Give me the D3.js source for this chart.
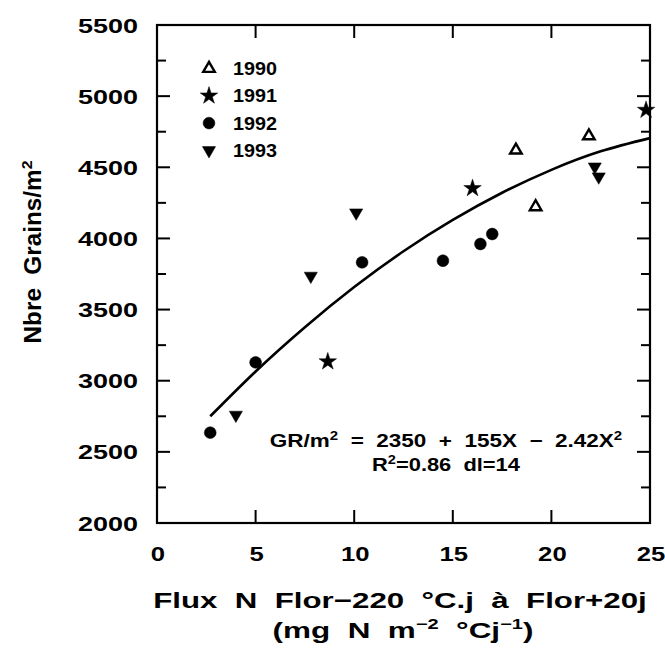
<!DOCTYPE html>
<html>
<head>
<meta charset="utf-8">
<script src="https://cdn.jsdelivr.net/npm/d3@7"></script>
<style>
  html, body { margin: 0; padding: 0; background: #fff; }
  svg { display: block; }
  text { font-family: "Liberation Sans", Arial, Helvetica, sans-serif; fill: #000; font-weight: bold; white-space: pre; }
</style>
</head>
<body>
<svg id="chart" width="665" height="666"></svg>
<script>
// ---------- data ----------
const years = ["1990", "1991", "1992", "1993"];
const x1990 = [18.2, 19.2, 21.9];
const y1990 = [4620, 4222, 4720];
const x1991 = [8.66, 16.0, 24.8];
const y1991 = [3134, 4352, 4902];
const x1992 = [2.7, 5.0, 10.4, 14.5, 16.4, 17.0];
const y1992 = [2635, 3129, 3832, 3843, 3961, 4031];
const x1993 = [4.0, 7.8, 10.1, 22.2, 22.4];
const y1993 = [2759, 3736, 4181, 4504, 4434];
// fitted curve GR/m2 = 2350 + 155X - 2.42X^2
const curveX = [2.7, 5, 7.5, 10, 12.5, 15, 17.5, 20, 22.5, 25];
const curveY = [2750, 3065, 3376, 3658, 3910, 4130, 4321, 4482, 4612, 4705];
const xTicks = [0, 5, 10, 15, 20, 25];
const yTicks = [2000, 2500, 3000, 3500, 4000, 4500, 5000, 5500];
const yMinorTicks = [2250, 2750, 3250, 3750, 4250, 4750, 5250];

// ---------- layout ----------
const svg = d3.select("#chart");
const L = 157, R = 650, T = 25, B = 523;
const x = d3.scaleLinear().domain([0, 25]).range([L, R]);
const y = d3.scaleLinear().domain([2000, 5500]).range([B, T]);

// helper: place text in a group at (gx, gy) and stretch it horizontally to a target width
function wideText(gx, gy, anchor, size, target, build) {
  const g = svg.append("g").attr("transform", `translate(${gx},${gy})`);
  const t = g.append("text").attr("text-anchor", anchor).attr("font-size", size);
  build(t);
  const w = t.node().getBBox().width;
  const sx = target / w;
  t.attr("transform", `scale(${sx},1)`);
  return sx;
}

// frame
svg.append("rect").attr("x", L).attr("y", T).attr("width", R - L).attr("height", B - T)
  .attr("fill", "none").attr("stroke", "#000").attr("stroke-width", 2.2);

// y ticks (both sides, inward)
const majLen = 13, minLen = 9;
const yAll = yTicks.slice(1, -1).map(v => ({v, len: majLen})).concat(yMinorTicks.map(v => ({v, len: minLen})));
svg.append("g").selectAll("line").data(yAll).join("line")
  .attr("x1", L).attr("x2", d => L + d.len).attr("y1", d => y(d.v)).attr("y2", d => y(d.v))
  .attr("stroke", "#000").attr("stroke-width", 2);
svg.append("g").selectAll("line").data(yAll).join("line")
  .attr("x1", R).attr("x2", d => R - d.len).attr("y1", d => y(d.v)).attr("y2", d => y(d.v))
  .attr("stroke", "#000").attr("stroke-width", 2);
// x ticks (top & bottom, inward)
const xInner = xTicks.slice(1, -1);
svg.append("g").selectAll("line").data(xInner).join("line")
  .attr("x1", d => x(d)).attr("x2", d => x(d)).attr("y1", B).attr("y2", B - majLen)
  .attr("stroke", "#000").attr("stroke-width", 2);
svg.append("g").selectAll("line").data(xInner).join("line")
  .attr("x1", d => x(d)).attr("x2", d => x(d)).attr("y1", T).attr("y2", T + majLen)
  .attr("stroke", "#000").attr("stroke-width", 2);

// tick labels
let tickSx = 1.3;
yTicks.forEach(v => {
  tickSx = wideText(138, y(v) + 7.5, "end", 21, 60, t => t.text(v));
});
svg.append("g").selectAll("g").data(xTicks).join("g")
  .attr("transform", d => `translate(${x(d) + 1},561)`)
  .append("text").attr("text-anchor", "middle").attr("font-size", 20)
  .attr("transform", `scale(${tickSx},1)`)
  .text(d => d);

// axis titles
{
  const g = svg.append("g").attr("transform", "translate(41,252) rotate(-90)");
  const t = g.append("text").attr("text-anchor", "middle").attr("font-size", 23);
  t.append("tspan").text("Nbre  Grains/m");
  t.append("tspan").attr("font-size", 15).attr("dy", -9).text("2");
  const w = t.node().getBBox().width;
  t.attr("transform", `scale(${183 / w},1)`);
}
wideText(400, 608, "middle", 22, 494, t => t.text("Flux  N  Flor\u2212220  \u00B0C.j  \u00E0  Flor+20j"));
wideText(403, 638, "middle", 22, 261, t => {
  t.append("tspan").text("(mg  N  m");
  t.append("tspan").attr("font-size", 14).attr("dy", -9).text("\u22122");
  t.append("tspan").attr("dy", 9).text("  \u00B0Cj");
  t.append("tspan").attr("font-size", 14).attr("dy", -9).text("\u22121");
  t.append("tspan").attr("dy", 9).text(")");
});

// fitted curve
const line = d3.line().x((d, i) => x(curveX[i])).y(d => y(d)).curve(d3.curveNatural);
svg.append("path").datum(curveY).attr("d", line)
  .attr("fill", "none").attr("stroke", "#000").attr("stroke-width", 2.6);

// markers
const sym = {
  "1990": d3.symbol().type(d3.symbolTriangle).size(58),
  "1991": d3.symbol().type(d3.symbolStar).size(95),
  "1992": d3.symbol().type(d3.symbolCircle).size(110),
  "1993": d3.symbol().type(d3.symbolTriangle).size(75)
};
function styleMark(sel, yr) {
  sel.attr("d", sym[yr]())
    .attr("fill", yr === "1990" ? "#fff" : "#000")
    .attr("stroke", "#000")
    .attr("stroke-width", yr === "1990" ? 2.4 : 0.5);
}
function rot(yr) { return yr === "1993" ? " rotate(180)" : ""; }
const seriesX = {"1990": x1990, "1991": x1991, "1992": x1992, "1993": x1993};
const seriesY = {"1990": y1990, "1991": y1991, "1992": y1992, "1993": y1993};
years.forEach(yr => {
  svg.append("g").selectAll("path").data(seriesY[yr]).join("path")
    .attr("transform", (d, i) => `translate(${x(seriesX[yr][i])},${y(d)})${rot(yr)}`)
    .call(styleMark, yr);
});

// legend
const legY0 = 68.5, legStep = 27.3;
years.forEach((yr, i) => {
  const ly = legY0 + i * legStep;
  svg.append("path").attr("transform", `translate(209,${ly})${rot(yr)}`).call(styleMark, yr);
  wideText(233, ly + 6.5, "start", 18, 44, t => t.text(yr));
});

// equation
wideText(446, 447, "middle", 18, 353, t => {
  t.append("tspan").text("GR/m");
  t.append("tspan").attr("font-size", 12).attr("dy", -7).text("2");
  t.append("tspan").attr("dy", 7).text("  =  2350  +  155X  \u2212  2.42X");
  t.append("tspan").attr("font-size", 12).attr("dy", -7).text("2");
});
wideText(446, 471, "middle", 18, 148, t => {
  t.append("tspan").text("R");
  t.append("tspan").attr("font-size", 12).attr("dy", -7).text("2");
  t.append("tspan").attr("dy", 7).text("=0.86  dl=14");
});
</script>
</body>
</html>
